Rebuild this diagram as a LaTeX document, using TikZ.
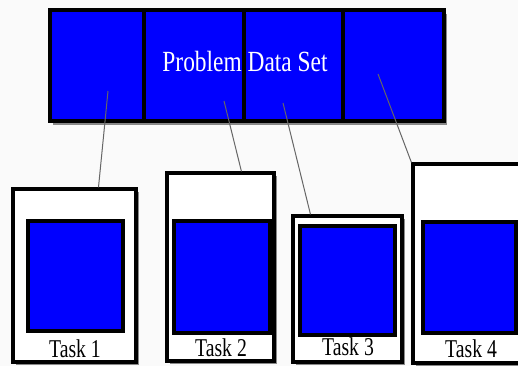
\documentclass[tikz,border=0pt]{standalone}
\usepackage{fontspec}
\setmainfont{Liberation Serif}
\usepackage{graphicx}
\usetikzlibrary{shadows,calc}
\definecolor{pblue}{RGB}{0,0,255}
\begin{document}
\begin{tikzpicture}[x=1pt,y=-1pt,
  cell/.style={draw=black,line width=3.2pt,fill=pblue,inner sep=0pt,outer sep=0pt},
  bar/.style={draw=black,line width=3.2pt,fill=pblue,inner sep=0pt,
     drop shadow={shadow xshift=3pt,shadow yshift=-4pt,fill=black,opacity=0.45}},
  taskbox/.style={draw=black,line width=3.2pt,fill=white,inner sep=0pt,
     drop shadow={shadow xshift=3pt,shadow yshift=-3pt,fill=black,opacity=0.45}},
  inner/.style={draw=black,line width=3.2pt,fill=pblue,inner sep=0pt},
  lbl/.style={inner sep=0pt,font=\fontsize{19.7}{20}\selectfont},
  conn/.style={draw=black!60,line width=1pt}]
\useasboundingbox (0,0) rectangle (518,366);
\fill[white!98!black] (0,0) rectangle (518,366);
% top bar
\node[bar,minimum width=394pt,minimum height=111pt] (bar) at (247,65.5) {};
\node[cell,minimum width=94pt,minimum height=111pt] (c1) at (97,65.5) {};
\node[cell,minimum width=100pt,minimum height=111pt] (c2) at (194,65.5) {};
\node[cell,minimum width=99pt,minimum height=111pt] (c3) at (293.5,65.5) {};
\node[cell,minimum width=101pt,minimum height=111pt] (c4) at (393.5,65.5) {};
\node[inner sep=0pt,text=white,font=\fontsize{23.4}{24}\selectfont] (title) at (245,61) {\scalebox{1}[1.25]{Problem Data Set}};
% tasks
\node[taskbox,minimum width=123pt,minimum height=173pt] (t1) at (74.5,275.5) {};
\node[inner,minimum width=95pt,minimum height=110pt] (b1) at (75.5,276) {};
\node[lbl] (l1) at (75,349) {\scalebox{1}[1.3]{Task 1}};
\node[taskbox,minimum width=107pt,minimum height=188pt] (t2) at (220.5,267) {};
\node[inner,minimum width=96pt,minimum height=112pt] (b2) at (222,277) {};
\node[lbl] (l2) at (221,348) {\scalebox{1}[1.3]{Task 2}};
\node[taskbox,minimum width=109pt,minimum height=146pt] (t3) at (347.5,289) {};
\node[inner,minimum width=95pt,minimum height=109pt] (b3) at (347.5,280.5) {};
\node[lbl] (l3) at (348,347) {\scalebox{1}[1.3]{Task 3}};
\node[taskbox,minimum width=112pt,minimum height=199pt] (t4) at (469,263.5) {};
\node[inner,minimum width=93pt,minimum height=111pt] (b4) at (469.5,277.5) {};
\node[lbl] (l4) at (471,349) {\scalebox{1}[1.3]{Task 4}};
% connectors
\coordinate (p1) at (108,91);
\coordinate (p2) at (224,101);
\coordinate (p3) at (283,103);
\coordinate (p4) at (378,74);
\draw[conn] (p1) -- ($(t1.north west)!0.69!(t1.north east)$);
\draw[conn] (p2) -- ($(t2.north west)!0.69!(t2.north east)$);
\draw[conn] (p3) -- ($(t3.north west)!0.17!(t3.north east)$);
\draw[conn] (p4) -- (t4.north west);
\end{tikzpicture}
\end{document}
